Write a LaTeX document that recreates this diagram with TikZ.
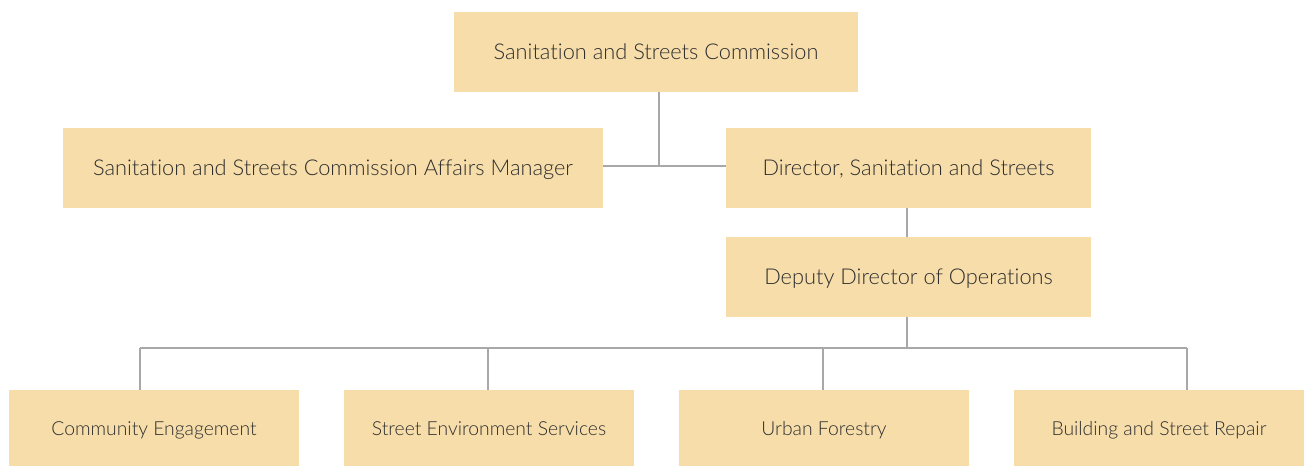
\documentclass[tikz,border=0pt]{standalone}
\usepackage{fontspec}
\setmainfont{Lato Light}[Ligatures=NoCommon]
\definecolor{boxfill}{HTML}{F6DDAA}
\definecolor{linec}{HTML}{A8A8A8}
\definecolor{textc}{HTML}{2E2E2E}
\begin{document}
\begin{tikzpicture}[
    unit/.style={fill=boxfill, text=textc, inner sep=0pt, minimum height=1.6cm,
        text height=0.8em, text depth=0pt, font=\fontsize{12.4}{14}\selectfont},
    team/.style={unit, minimum width=5.8cm, minimum height=1.52cm, font=\fontsize{11}{13}\selectfont},
    link/.style={draw=linec, line width=0.7pt}]

\useasboundingbox (0, 0) rectangle (26.12, -9.32);

% ── Comisión y dirección ──────────────────────────────────────
\node[unit, minimum width=8.08cm] (comm) at (13.12, -1.04)
    {Sanitation and Streets Commission};
\node[unit, minimum width=10.8cm] (mgr) at (6.66, -3.36)
    {Sanitation and Streets Commission Affairs Manager};
\node[unit, minimum width=7.3cm] (dir) at (18.17, -3.36)
    {Director, Sanitation and Streets};
\node[unit, minimum width=7.3cm] (dep) at (18.17, -5.54)
    {Deputy Director of Operations};

% ── Divisiones ────────────────────────────────────────────────
\node[team] (ce)  at (3.08, -8.56)  {Community Engagement};
\node[team] (ses) at (9.78, -8.56)  {Street Environment Services};
\node[team] (uf)  at (16.48, -8.56) {Urban Forestry};
\node[team] (bsr) at (23.18, -8.56) {Building and Street Repair};

% ── Conectores superiores ─────────────────────────────────────
\coordinate (tee) at (13.18, -3.32);
\draw[link] (comm.south -| tee) -- (tee);
\draw[link] (mgr.east |- tee) -- (dir.west |- tee);
\draw[link] (dir.south -| 18.14, 0) -- (dep.north -| 18.14, 0);

% ── Barra de divisiones ───────────────────────────────────────
\coordinate (bus) at (18.14, -6.96);
\draw[link] (dep.south -| bus) -- (bus);
\coordinate (busl) at (2.80, -6.96);
\coordinate (busr) at (23.74, -6.96);
\draw[link] (busl) -- (busr);
\foreach \n/\x in {ce/2.80, ses/9.76, uf/16.46, bsr/23.74} {
    \coordinate (d\n) at (\x, -6.96);
    \draw[link] (d\n) -- (d\n |- \n.north);
}

\end{tikzpicture}
\end{document}
